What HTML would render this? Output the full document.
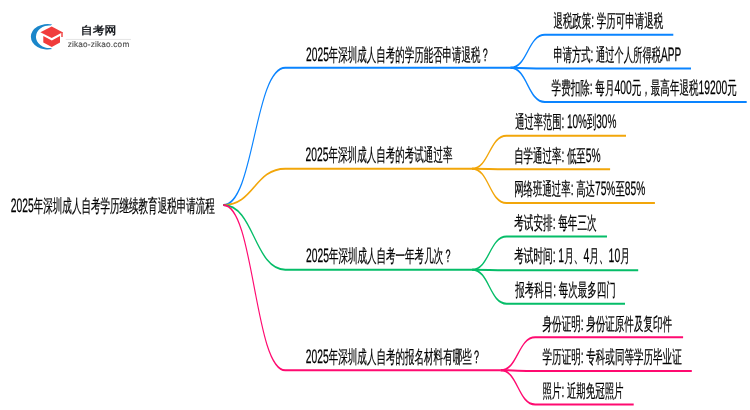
<!DOCTYPE html><html><head><meta charset="utf-8"><style>html,body{margin:0;padding:0;background:#fff;overflow:hidden}svg{display:block;will-change:transform}text{font-family:"Liberation Sans",sans-serif;text-rendering:geometricPrecision}</style></head><body>
<svg width="750" height="410" viewBox="0 0 750 410">
<g id="logo">
<path d="M52.2,24.4 A16.9,12.8 0 1 0 52.2,49.1 L50.5,47.88 A13.1,11.2 0 1 1 50.5,25.62 Z" fill="#1a86ca"/>
<path d="M51.7,26.4 L62.6,32.2 L51.7,38.0 L40.4,32.3 Z" fill="#f03c3c"/>
<path d="M61.3,32.0 L62.7,32.0 L62.7,37.0 L61.3,37.0 Z" fill="#f03c3c"/>
<path d="M43.3,36.0 L51.8,40.4 L60.0,36.0 L60.0,42.5 L51.8,46.9 L43.3,42.5 Z" fill="#f03c3c"/>
<text transform="translate(80.8,34.2) scale(1.08,1)" font-size="11" font-weight="700" fill="#1a1d22">自考网</text>
<rect x="65.7" y="38.9" width="65.3" height="1" fill="#e4e4e4"/>
<text transform="translate(67.7,47.4) scale(1.0,1)" font-size="8.2" fill="#4a4a4a" letter-spacing="0.2" stroke="#4a4a4a" stroke-width="0.12">zikao-zikao.com</text>
</g>

<g transform="scale(0.55,1)">
<path d="M406.000,205.0 C462.364,205.0 462.364,67.85 518.727,67.85 L928.000,67.85" fill="none" stroke="#0a84ff" stroke-width="2"/>
<path d="M406.000,205.0 C462.364,205.0 462.364,168.65 518.727,168.65 L858.182,168.65" fill="none" stroke="#f2a60a" stroke-width="2"/>
<path d="M406.000,205.0 C462.364,205.0 462.364,269.65 518.727,269.65 L858.364,269.65" fill="none" stroke="#05bd68" stroke-width="2"/>
<path d="M406.000,205.0 C462.364,205.0 462.364,370.25 518.727,370.25 L910.364,370.25" fill="none" stroke="#ff0a70" stroke-width="2"/>
<path d="M928.000,67.85 C959.364,67.85 959.364,34.85 990.727,34.85 L1224.182,34.85" fill="none" stroke="#0a84ff" stroke-width="2"/>
<path d="M928.000,67.85 C959.364,67.85 959.364,68.45 990.727,68.45 L1256.364,68.45" fill="none" stroke="#0a84ff" stroke-width="2"/>
<path d="M928.000,67.85 C959.364,67.85 959.364,102.05 990.727,102.05 L1357.636,102.05" fill="none" stroke="#0a84ff" stroke-width="2"/>
<path d="M858.182,168.65 C889.545,168.65 889.545,135.65 920.909,135.65 L1138.182,135.65" fill="none" stroke="#f2a60a" stroke-width="2"/>
<path d="M858.182,168.65 C889.545,168.65 889.545,169.25 920.909,169.25 L1109.273,169.25" fill="none" stroke="#f2a60a" stroke-width="2"/>
<path d="M858.182,168.65 C889.545,168.65 889.545,203.05 920.909,203.05 L1190.727,203.05" fill="none" stroke="#f2a60a" stroke-width="2"/>
<path d="M858.364,269.65 C889.727,269.65 889.727,236.55 921.091,236.55 L1103.636,236.55" fill="none" stroke="#05bd68" stroke-width="2"/>
<path d="M858.364,269.65 C889.727,269.65 889.727,270.15 921.091,270.15 L1160.364,270.15" fill="none" stroke="#05bd68" stroke-width="2"/>
<path d="M858.364,269.65 C889.727,269.65 889.727,303.65 921.091,303.65 L1136.364,303.65" fill="none" stroke="#05bd68" stroke-width="2"/>
<path d="M910.364,370.25 C941.727,370.25 941.727,337.35 973.091,337.35 L1242.000,337.35" fill="none" stroke="#ff0a70" stroke-width="2"/>
<path d="M910.364,370.25 C941.727,370.25 941.727,371.05 973.091,371.05 L1257.818,371.05" fill="none" stroke="#ff0a70" stroke-width="2"/>
<path d="M910.364,370.25 C941.727,370.25 941.727,404.45 973.091,404.45 L1152.182,404.45" fill="none" stroke="#ff0a70" stroke-width="2"/>
</g>
<text transform="translate(10.797,211.90) scale(0.52935,1)" font-size="18" font-weight="500" fill="#000" stroke="#000" stroke-width="0.25"><tspan font-size="19.5">2025</tspan>年深圳成人自考学历继续教育退税申请流程</text>
<text transform="translate(306.000,60.90) scale(0.52668,1)" font-size="18" font-weight="500" fill="#000" stroke="#000" stroke-width="0.25"><tspan font-size="19.5">2025</tspan>年深圳成人自考的学历能否申请退税？</text>
<text transform="translate(305.586,161.10) scale(0.52945,1)" font-size="18" font-weight="500" fill="#000" stroke="#000" stroke-width="0.25"><tspan font-size="19.5">2025</tspan>年深圳成人自考的考试通过率</text>
<text transform="translate(306.000,261.70) scale(0.52885,1)" font-size="18" font-weight="500" fill="#000" stroke="#000" stroke-width="0.25"><tspan font-size="19.5">2025</tspan>年深圳成人自考一年考几次？</text>
<text transform="translate(305.788,362.70) scale(0.52957,1)" font-size="18" font-weight="500" fill="#000" stroke="#000" stroke-width="0.25"><tspan font-size="19.5">2025</tspan>年深圳成人自考的报名材料有哪些？</text>
<text transform="translate(553.385,27.15) scale(0.52739,1)" font-size="18" font-weight="500" fill="#000" stroke="#000" stroke-width="0.25">退税政策<tspan font-size="19.5">:</tspan> 学历可申请退税</text>
<text transform="translate(553.384,60.75) scale(0.51613,1)" font-size="18" font-weight="500" fill="#000" stroke="#000" stroke-width="0.25">申请方式<tspan font-size="19.5">:</tspan> 通过个人所得税<tspan font-size="19.5">APP</tspan></text>
<text transform="translate(551.597,94.35) scale(0.53065,1)" font-size="18" font-weight="500" fill="#000" stroke="#000" stroke-width="0.25">学费扣除<tspan font-size="19.5">:</tspan> 每月<tspan font-size="19.5">400</tspan>元，最高年退税<tspan font-size="19.5">19200</tspan>元</text>
<text transform="translate(515.178,127.95) scale(0.51479,1)" font-size="18" font-weight="500" fill="#000" stroke="#000" stroke-width="0.25">通过率范围<tspan font-size="19.5">:</tspan> <tspan font-size="19.5">10%</tspan>到<tspan font-size="19.5">30%</tspan></text>
<text transform="translate(514.168,161.55) scale(0.52522,1)" font-size="18" font-weight="500" fill="#000" stroke="#000" stroke-width="0.25">自学通过率<tspan font-size="19.5">:</tspan> 低至<tspan font-size="19.5">5%</tspan></text>
<text transform="translate(514.159,195.35) scale(0.52355,1)" font-size="18" font-weight="500" fill="#000" stroke="#000" stroke-width="0.25">网络班通过率<tspan font-size="19.5">:</tspan> 高达<tspan font-size="19.5">75%</tspan>至<tspan font-size="19.5">85%</tspan></text>
<text transform="translate(514.162,228.85) scale(0.53466,1)" font-size="18" font-weight="500" fill="#000" stroke="#000" stroke-width="0.25">考试安排<tspan font-size="19.5">:</tspan> 每年三次</text>
<text transform="translate(514.172,262.45) scale(0.53609,1)" font-size="18" font-weight="500" fill="#000" stroke="#000" stroke-width="0.25">考试时间<tspan font-size="19.5">:</tspan> <tspan font-size="19.5">1</tspan>月、<tspan font-size="19.5">4</tspan>月、<tspan font-size="19.5">10</tspan>月</text>
<text transform="translate(515.182,295.95) scale(0.52863,1)" font-size="18" font-weight="500" fill="#000" stroke="#000" stroke-width="0.25">报考科目<tspan font-size="19.5">:</tspan> 每次最多四门</text>
<text transform="translate(542.584,329.65) scale(0.52952,1)" font-size="18" font-weight="500" fill="#000" stroke="#000" stroke-width="0.25">身份证明<tspan font-size="19.5">:</tspan> 身份证原件及复印件</text>
<text transform="translate(542.580,363.35) scale(0.53006,1)" font-size="18" font-weight="500" fill="#000" stroke="#000" stroke-width="0.25">学历证明<tspan font-size="19.5">:</tspan> 专科或同等学历毕业证</text>
<text transform="translate(542.566,396.75) scale(0.52450,1)" font-size="18" font-weight="500" fill="#000" stroke="#000" stroke-width="0.25">照片<tspan font-size="19.5">:</tspan> 近期免冠照片</text>
</svg></body></html>
